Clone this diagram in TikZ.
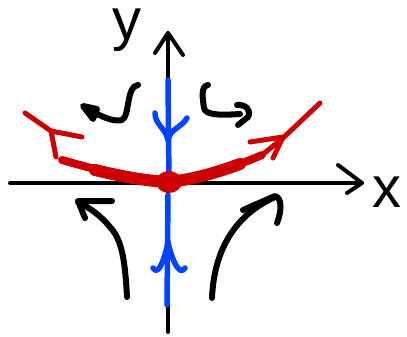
\documentclass[tikz,border=0pt]{standalone}
\usepackage{fontspec}
\setmainfont{Liberation Sans}
\usepackage{xcolor}
\usetikzlibrary{positioning}

\definecolor{sketchred}{HTML}{CC0000}
\definecolor{sketchblue}{HTML}{0044FF}

\begin{document}
\begin{tikzpicture}[x=1pt, y=-1pt,
  pen/.style={line cap=round, line join=round},
  axis/.style={pen, draw=black, line width=4pt},
  flow/.style={pen, draw=black, line width=6pt},
  stable/.style={pen, draw=sketchblue, line width=5.5pt},
  unstable/.style={pen, draw=sketchred, line width=5pt},
  lbl/.style={inner sep=0pt, anchor=base, font=\fontsize{58}{58}\selectfont},
]
\useasboundingbox (0,0) rectangle (407,337);

% --- Axes ---
\coordinate (O)  at (169,182);
\coordinate (xL) at (10,183);
\coordinate (xR) at (362,183);
\coordinate (yT) at (168,33);
\coordinate (yB) at (168,332);

\draw[axis] (xL) -- (xR);
\draw[axis] (338,165) -- (xR) -- (347,193);
\draw[axis] (yB) -- (yT);
\draw[axis] (155,53) -- (yT) -- (183,55);

\node[lbl] (ylab) at (127,40)  {y};
\node[lbl] (xlab) at (387,207) {x};

% --- Stable manifold (blue) ---
\draw[stable] (168,80) -- (O);
\draw[stable] (168,195) -- (167,305);
\draw[stable] (155,113) to[out=-90, in=100] (168,140);
\draw[stable] (187,118) to[out=-120, in=80] (168,140);
\draw[stable] (153,268) to[out=-60, in=-100] (168,242);
\draw[stable] (185,268) to[out=-120, in=-80] (168,242);

% --- Unstable manifold (red) ---
\draw[unstable, line width=8pt] (O) .. controls (140,181) and (100,171) .. (62,160);
\draw[unstable, line width=12pt] (O) .. controls (145,181) and (120,176) .. (95,170);
\draw[unstable, line width=8pt] (O) .. controls (200,178) and (232,168) .. (262,155);
\draw[unstable, line width=12pt] (O) .. controls (195,179) and (215,173) .. (240,164);
\draw[unstable] (25,113) -- (51,131);
\draw[unstable] (82,137) -- (51,131) -- (56,157);
\draw[unstable] (262,155) -- (283,138) -- (320,103);
\draw[unstable] (250,142) -- (283,137) -- (273,158);
\fill[sketchred] (O) ellipse [x radius=13pt, y radius=11pt];

% --- Flow lines (black) ---
\draw[flow] (138,85) .. controls (126,86) and (130,116) .. (122,120)
            .. controls (115,122) and (105,118) .. (95,113);
\filldraw[flow, fill=black] (83,106) -- (97,109) -- (93,119) -- cycle;

\draw[flow] (208,85) .. controls (200,86) and (203,100) .. (204,108)
            .. controls (205,116) and (225,115) .. (240,114);
\draw[flow] (237,105) .. controls (245,104) and (252,110) .. (248,117) -- (238,125);

\draw[flow] (127,297) .. controls (125,260) and (122,240) .. (110,227)
            .. controls (100,215) and (90,208) .. (78,202);
\draw[flow] (112,201) -- (78,201) -- (85,218);

\draw[flow] (212,298) .. controls (214,250) and (235,215) .. (275,197);
\draw[flow] (243,210) -- (275,196) .. controls (282,198) and (282,210) .. (277,223);
\end{tikzpicture}
\end{document}
